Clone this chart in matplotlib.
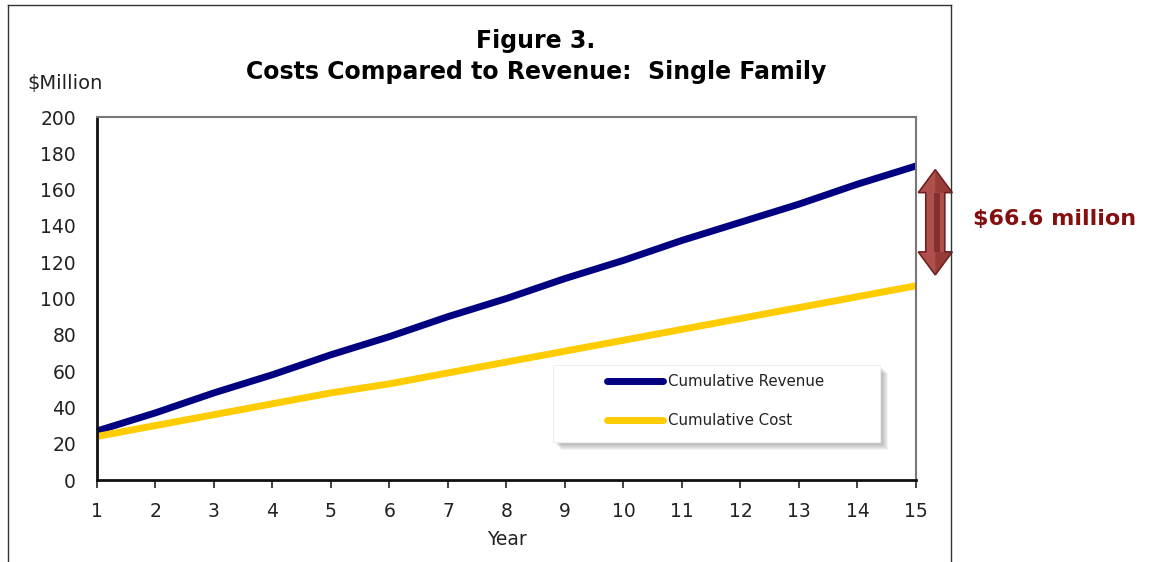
import numpy as np
import matplotlib.pyplot as plt
import matplotlib.transforms as mtransforms
from matplotlib.lines import Line2D
from matplotlib.patches import Polygon, Rectangle

plt.rcParams['font.family'] = ['DejaVu Sans']

# data
years = list(range(1, 16))
revenue = [27, 37, 48, 58, 69, 79, 90, 100, 111, 121, 132, 142, 152, 163, 173]
cost = [24, 30, 36, 42, 48, 53, 59, 65, 71, 77, 83, 89, 95, 101, 107]
y_ticks = [0, 20, 40, 60, 80, 100, 120, 140, 160, 180, 200]
arrow_span = (113, 171)   # arrow end points on the y scale
gap_label = "$66.6 million"

fig = plt.figure(figsize=(11.5, 5.62), dpi=100)
ax = fig.add_axes([0.0843, 0.1459, 0.7122, 0.6459])

ax.plot(years, revenue, color='#000080', lw=5, solid_capstyle='butt', label='Cumulative Revenue', clip_on=False)
ax.plot(years, cost, color='#FFCC00', lw=5, solid_capstyle='butt', label='Cumulative Cost', clip_on=False)

ax.set_xlim(1, 15)
ax.set_ylim(0, 200)
ax.set_xticks(years)
ax.set_yticks(y_ticks)
ax.tick_params(axis='x', direction='out', length=6, width=1.2, pad=10, labelsize=13.5, colors='#222222')
ax.tick_params(axis='y', length=0, pad=15, labelsize=13.5, colors='#222222')
ax.set_xlabel('Year', fontsize=13.5, color='#222222', labelpad=6)

for side in ['left', 'bottom']:
    ax.spines[side].set_color('#111111')
    ax.spines[side].set_linewidth(2)
for side in ['top', 'right']:
    ax.spines[side].set_color('#777777')
    ax.spines[side].set_linewidth(1.5)

# legend box with soft shadow
box = (0.5568, 0.1047, 0.399, 0.212)
for i in range(6):
    off = mtransforms.ScaledTranslation((3 + i) / 100, -(3 + i) / 100, fig.dpi_scale_trans)
    ax.add_patch(Rectangle(box[:2], box[2], box[3], transform=ax.transAxes + off,
                           facecolor='#555555', edgecolor='none', alpha=0.07, zorder=4, clip_on=False))
ax.add_patch(Rectangle(box[:2], box[2], box[3], transform=ax.transAxes,
                       facecolor='white', edgecolor='#eeeeee', lw=0.8, zorder=4.5, clip_on=False))

leg = ax.legend(loc='center left', bbox_to_anchor=(0.6227, 0.2163), fontsize=10.8,
                handlelength=3.75, handletextpad=0.33, labelspacing=1.6,
                borderpad=0, borderaxespad=0, frameon=False)
leg.set_zorder(5)
for t in leg.get_texts():
    t.set_color('#222222')
for h in leg.get_lines():
    h.set_solid_capstyle('round')

# titles
fig.text(0.466, 0.927, 'Figure 3.', ha='center', va='center', fontsize=17, fontweight='bold')
fig.text(0.466, 0.871, 'Costs Compared to Revenue:  Single Family', ha='center', va='center',
         fontsize=17, fontweight='bold')
fig.text(0.024, 0.852, '$Million', ha='left', va='center', fontsize=14, color='#222222')

# outer frame
frame_kw = dict(color='#333333', lw=1, transform=fig.transFigure)
fig.add_artist(Line2D([0.007, 0.007], [0, 0.991], **frame_kw))
fig.add_artist(Line2D([0.007, 0.827], [0.991, 0.991], **frame_kw))
fig.add_artist(Line2D([0.827, 0.827], [0, 0.991], **frame_kw))

# double-headed block arrow, placed just right of year 15
fig.canvas.draw()
x0, ylo = ax.transData.transform((15.33, arrow_span[0]))
_, yhi = ax.transData.transform((15.33, arrow_span[1]))
hw, sw, hl = 17, 9.5, 23
pts = [(x0, yhi), (x0 + hw, yhi - hl), (x0 + sw, yhi - hl), (x0 + sw, ylo + hl), (x0 + hw, ylo + hl),
       (x0, ylo), (x0 - hw, ylo + hl), (x0 - sw, ylo + hl), (x0 - sw, yhi - hl), (x0 - hw, yhi - hl)]
fig.add_artist(Polygon(pts, closed=True, transform=None, facecolor='#B0504C', edgecolor='#6E2220', lw=1.2))
shade = [(x0 - 1, yhi - hl), (x0 + 5, yhi - hl), (x0 + 5, ylo + hl), (x0 - 1, ylo + hl)]
fig.add_artist(Polygon(shade, closed=True, transform=None, facecolor='#5E1716', edgecolor='none', alpha=0.55))
for tip, base in [(yhi, yhi - hl), (ylo, ylo + hl)]:
    fig.add_artist(Polygon([(x0, tip), (x0 + hw, base), (x0, base)], closed=True, transform=None,
                           facecolor='#7A2523', edgecolor='none', alpha=0.45))

ym = (ylo + yhi) / 2
fig.text(0.846, fig.transFigure.inverted().transform((0, ym))[1] + 0.005, gap_label, ha='left', va='center',
         fontsize=16, fontweight='bold', color='#850E0E')

fig.savefig('out.png', dpi=100)
